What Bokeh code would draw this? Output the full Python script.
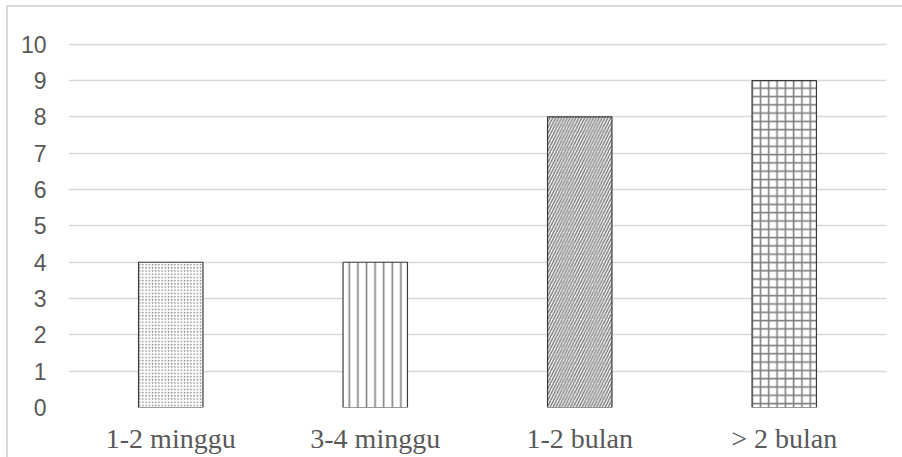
from bokeh.plotting import figure
from bokeh.models import ColumnDataSource, FactorRange, Range1d, FixedTicker, InlineStyleSheet
from bokeh.embed import file_html
from bokeh.resources import INLINE

categories = ["1-2 minggu", "3-4 minggu", "1-2 bulan", "> 2 bulan"]
values = [4, 4, 8, 9]
y_ticks = [0, 1, 2, 3, 4, 5, 6, 7, 8, 9, 10]

patterns = ["dot", "vertical_line", "right_diagonal_line", "cross"]
scales = [3.2, 8.6, 5.8, 8.3]
weights = [1.2, 1.6, 1.5, 1.6]

src = ColumnDataSource(dict(cat=categories, val=values, pat=patterns, sc=scales, wt=weights))

p = figure(width=902, height=457, output_backend="svg", toolbar_location=None,
           x_range=FactorRange(*categories, range_padding=0), y_range=Range1d(0, 10.05),
           min_border_left=68, min_border_right=16, min_border_top=42, min_border_bottom=50)

p.vbar(x="cat", top="val", width=0.315, source=src, fill_color="white",
       line_color="#3a3a3a", line_width=1.2,
       hatch_pattern="pat", hatch_scale="sc", hatch_weight="wt", hatch_color="#7f7f7f")

p.outline_line_color = None
p.xgrid.grid_line_color = None
p.ygrid.grid_line_color = "#d9d9d9"
p.ygrid.grid_line_width = 1.5
p.yaxis.ticker = FixedTicker(ticks=y_ticks)

for ax in (p.xaxis[0], p.yaxis[0]):
    ax.axis_line_color = None
    ax.major_tick_line_color = None
    ax.minor_tick_line_color = None
    ax.major_label_text_color = "#595959"

p.yaxis.major_label_text_font = "Liberation Sans"
p.yaxis.major_label_text_font_size = "23px"
p.yaxis.major_label_standoff = 16
p.xaxis.major_label_text_font = "Liberation Serif"
p.xaxis.major_label_text_font_size = "28px"
p.xaxis.major_label_standoff = 9

p.stylesheets = [InlineStyleSheet(css="""
:host::after {
  content: '';
  position: absolute;
  left: 6px; top: 5px; right: -20px; bottom: -20px;
  border-left: 2px solid #d9d9d9;
  border-top: 2px solid #d9d9d9;
  pointer-events: none;
  z-index: 10;
}
""")]

open("out.html", "w").write(file_html(p, INLINE))
